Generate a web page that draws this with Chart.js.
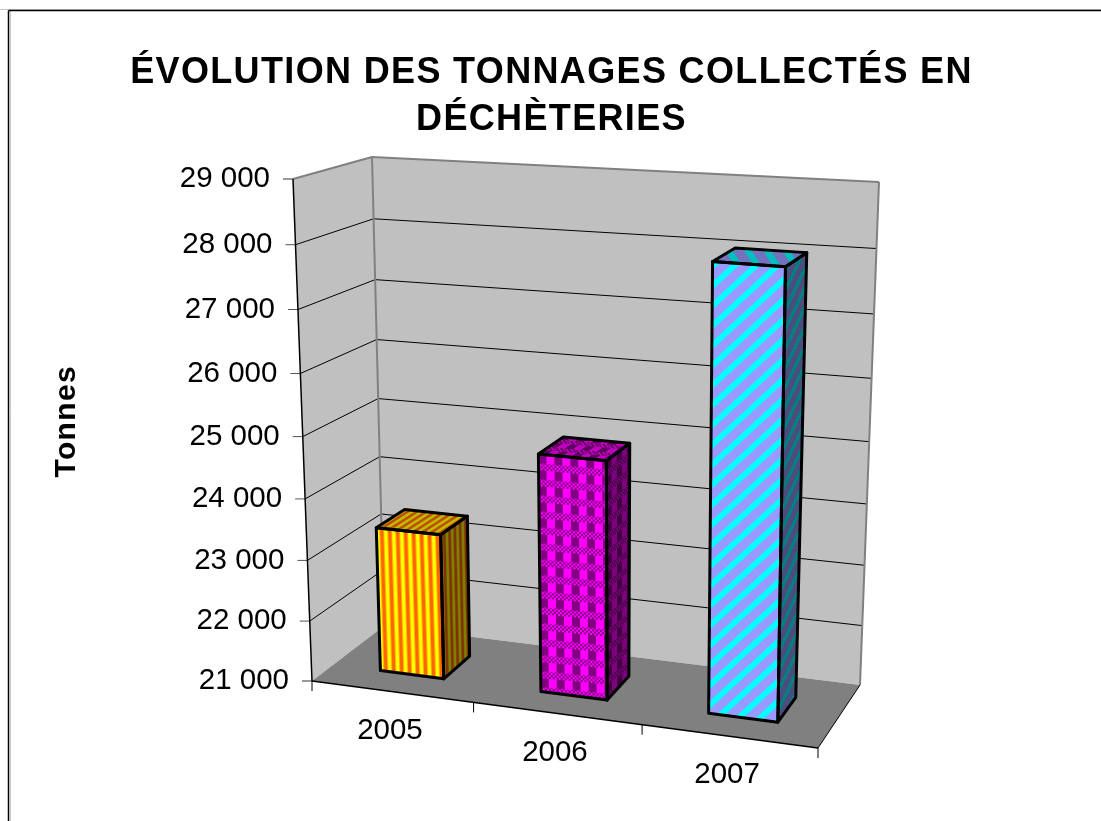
<!DOCTYPE html>
<html lang="fr">
<head>
<meta charset="utf-8">
<title>Évolution des tonnages collectés en déchèteries</title>
<script src="https://cdn.jsdelivr.net/npm/chart.js@4"></script>
<style>
  html, body { margin: 0; padding: 0; background: #fff; }
  #wrap { width: 1101px; height: 821px; }
</style>
</head>
<body>
<div id="wrap"><canvas id="chart" width="1101" height="821"></canvas></div>
<script>
const years = ['2005', '2006', '2007'];
const tonnes = [23400, 24870, 28050];
const yMin = 21000;
const yMax = 29000;
const yStep = 1000;
const titleLines = ['ÉVOLUTION DES TONNAGES COLLECTÉS EN', 'DÉCHÈTERIES'];
const yTitle = 'Tonnes';

const FONT = '"Liberation Sans", Arial, sans-serif';

// corners of the 3D box as seen on screen (tl, tr, br, bl)
const frontQuad = [[293, 179], [827, 215], [818, 748], [312, 681]];
const backQuad = [[372, 157], [879, 182], [860, 685], [384, 626]];

// unit square -> quad
function homography(q) {
  const [[x0, y0], [x1, y1], [x2, y2], [x3, y3]] = q;
  const dx1 = x1 - x2, dx2 = x3 - x2, sx = x0 - x1 + x2 - x3;
  const dy1 = y1 - y2, dy2 = y3 - y2, sy = y0 - y1 + y2 - y3;
  const den = dx1 * dy2 - dx2 * dy1;
  const g = (sx * dy2 - dx2 * sy) / den;
  const h = (dx1 * sy - sx * dy1) / den;
  const a = x1 - x0 + g * x1, b = x3 - x0 + h * x3;
  const d = y1 - y0 + g * y1, e = y3 - y0 + h * y3;
  return (s, t) => {
    const k = g * s + h * t + 1;
    return [(a * s + b * t + x0) / k, (d * s + e * t + y0) / k];
  };
}
const frontH = homography(frontQuad);
const backH = homography(backQuad);

// u along categories, v up the value axis, w into the depth
function project(u, v, w) {
  const f = frontH(u, 1 - v);
  const b = backH(u, 1 - v);
  return [f[0] + (b[0] - f[0]) * w, f[1] + (b[1] - f[1]) * w];
}

function poly(ctx, pts) {
  ctx.beginPath();
  pts.forEach((p, i) => (i ? ctx.lineTo(p[0], p[1]) : ctx.moveTo(p[0], p[1])));
  ctx.closePath();
}

function line(ctx, a, b, color, width) {
  ctx.strokeStyle = color;
  ctx.lineWidth = width;
  ctx.beginPath();
  ctx.moveTo(a[0], a[1]);
  ctx.lineTo(b[0], b[1]);
  ctx.stroke();
}

function stripePattern(ctx) {
  const c = document.createElement('canvas');
  c.width = 8; c.height = 8;
  const g = c.getContext('2d');
  ['#ffff00', '#ffff00', '#ffff00', '#ffb000', '#ff6600', '#ff6600', '#ff6600', '#ffb000'].forEach((col, i) => {
    g.fillStyle = col;
    g.fillRect(i, 0, 1, 8);
  });
  return ctx.createPattern(c, 'repeat');
}

function checkPattern(ctx) {
  const c = document.createElement('canvas');
  c.width = 16; c.height = 16;
  const g = c.getContext('2d');
  for (let y = 0; y < 16; y++) {
    for (let x = 0; x < 16; x++) {
      let on;
      if (y < 9) on = x >= 8;
      else on = (Math.floor(x / 2) + Math.floor(y / 2)) % 2 === 0;
      g.fillStyle = on ? '#ff00ff' : '#800080';
      g.fillRect(x, y, 1, 1);
    }
  }
  return ctx.createPattern(c, 'repeat');
}

function diagonalPattern(ctx) {
  const c = document.createElement('canvas');
  c.width = 20; c.height = 20;
  const g = c.getContext('2d');
  for (let y = 0; y < 20; y++) {
    for (let x = 0; x < 20; x++) {
      g.fillStyle = (x + y) % 20 < 8 ? '#00ffff' : '#9999ff';
      g.fillRect(x, y, 1, 1);
    }
  }
  return ctx.createPattern(c, 'repeat');
}

// fill a face with a pattern sheared along its edges, then darken it
function fillFace(ctx, pts, pattern, sx, sy, shade) {
  const [p0, p1, , p3] = pts;
  const ux = p1[0] - p0[0], uy = p1[1] - p0[1];
  const vx = p3[0] - p0[0], vy = p3[1] - p0[1];
  const lu = Math.hypot(ux, uy), lv = Math.hypot(vx, vy);
  pattern.setTransform(new DOMMatrix([ux / lu * sx, uy / lu * sx, vx / lv * sy, vy / lv * sy, p0[0], p0[1]]));
  poly(ctx, pts);
  ctx.fillStyle = pattern;
  ctx.fill();
  if (shade) {
    ctx.fillStyle = 'rgba(0,0,0,' + shade + ')';
    ctx.fill();
  }
}

const box3d = {
  id: 'box3d',
  beforeDraw(chart) {
    const ctx = chart.ctx;
    ctx.save();
    ctx.fillStyle = '#fff';
    ctx.fillRect(0, 0, chart.width, chart.height);
    line(ctx, [0, 9.5], [1101, 9.5], '#c8c8c8', 1);
    line(ctx, [10.5, 10], [10.5, 821], '#c8c8c8', 1);
    line(ctx, [8.5, 10.5], [1101, 10.5], '#000', 1.5);
    line(ctx, [8.5, 10.5], [8.5, 821], '#000', 1.5);
    ctx.restore();
    // title and axis title are spaced out a little in the original
    ctx.letterSpacing = '1.35px';
  },
  beforeDatasetsDraw(chart) {
    const ctx = chart.ctx;
    ctx.letterSpacing = '0px';
    const yScale = chart.scales.y;
    const xScale = chart.scales.x;
    const area = chart.chartArea;
    const vOf = (val) => (area.bottom - yScale.getPixelForValue(val)) / area.height;
    ctx.save();

    // walls and floor
    poly(ctx, [project(0, 0, 0), project(0, 1, 0), project(0, 1, 1), project(0, 0, 1)]);
    ctx.fillStyle = '#c0c0c0';
    ctx.fill();
    poly(ctx, [project(0, 0, 1), project(0, 1, 1), project(1, 1, 1), project(1, 0, 1)]);
    ctx.fill();
    poly(ctx, [project(0, 0, 0), project(0, 0, 1), project(1, 0, 1), project(1, 0, 0)]);
    ctx.fillStyle = '#808080';
    ctx.fill();

    // gridlines and tick labels from the value scale
    yScale.ticks.forEach((tick) => {
      const v = vOf(tick.value);
      const a = project(0, v, 0);
      if (tick.value > yMin && tick.value < yMax) {
        line(ctx, a, project(0, v, 1), '#000', 1);
        line(ctx, project(0, v, 1), project(1, v, 1), '#000', 1);
      }
      line(ctx, [a[0] - 10, a[1]], a, tick.value === yMin || tick.value === yMax ? '#333' : '#555', 1);
      ctx.fillStyle = '#000';
      ctx.font = '29.5px ' + FONT;
      ctx.textAlign = 'right';
      ctx.textBaseline = 'middle';
      ctx.fillText(tick.label, a[0] - 23, a[1]);
    });

    // wall edges
    line(ctx, project(0, 1, 0), project(0, 1, 1), '#808080', 2);
    line(ctx, project(0, 1, 1), project(1, 1, 1), '#808080', 2);
    line(ctx, project(0, 1, 1), project(0, 0, 1), '#808080', 2);
    line(ctx, project(1, 1, 1), project(1, 0, 1), '#808080', 2);

    // axes
    line(ctx, project(0, 1, 0), project(0, 0, 0), '#000', 1.5);
    line(ctx, project(0, 0, 0), project(1, 0, 0), '#000', 1.5);
    line(ctx, project(1, 0, 0), project(1, 0, 1), '#000', 1);

    // category ticks and labels
    const n = years.length;
    for (let i = 0; i <= n; i++) {
      const p = project(i / n, 0, 0);
      line(ctx, p, [p[0], p[1] + 10], '#000', 1);
    }
    xScale.ticks.forEach((tick, i) => {
      const u = (xScale.getPixelForTick(i) - area.left) / area.width;
      const p = project(u, 0, 0);
      ctx.fillStyle = '#000';
      ctx.font = '29.5px ' + FONT;
      ctx.textAlign = 'center';
      ctx.textBaseline = 'middle';
      ctx.fillText(tick.label, p[0] - 2, p[1] + 39);
    });
    ctx.restore();
  },
  afterDatasetsDraw(chart) {
    const ctx = chart.ctx;
    const area = chart.chartArea;
    const makers = [stripePattern, checkPattern, diagonalPattern];
    const w0 = 0.3, w1 = 0.7;
    ctx.save();
    chart.getDatasetMeta(0).data.forEach((bar, i) => {
      const u0 = (bar.x - bar.width / 2 - area.left) / area.width;
      const u1 = (bar.x + bar.width / 2 - area.left) / area.width;
      const vt = (area.bottom - bar.y) / area.height;
      const pat = makers[i](ctx);
      const front = [project(u0, vt, w0), project(u1, vt, w0), project(u1, 0, w0), project(u0, 0, w0)];
      const side = [project(u1, vt, w0), project(u1, vt, w1), project(u1, 0, w1), project(u1, 0, w0)];
      const top = [project(u0, vt, w0), project(u1, vt, w0), project(u1, vt, w1), project(u0, vt, w1)];
      fillFace(ctx, front, pat, 1, 1, 0);
      fillFace(ctx, side, pat, 0.8, 1, 0.5);
      fillFace(ctx, top, pat, 1, 0.8, 0.25);
      ctx.strokeStyle = '#000';
      ctx.lineWidth = 3;
      ctx.lineJoin = 'round';
      [front, side, top].forEach((f) => { poly(ctx, f); ctx.stroke(); });
    });
    ctx.restore();
  },
};

new Chart(document.getElementById('chart'), {
  type: 'bar',
  data: {
    labels: years,
    datasets: [{
      label: 'Tonnes',
      data: tonnes,
      backgroundColor: 'rgba(0,0,0,0)',
      barPercentage: 0.4,
      categoryPercentage: 1,
    }],
  },
  options: {
    responsive: false,
    animation: false,
    layout: { padding: { left: 45, right: 43, top: 0, bottom: 142 } },
    plugins: {
      legend: { display: false },
      tooltip: { enabled: false },
      title: {
        display: true,
        text: titleLines,
        color: '#000',
        font: { family: FONT, size: 36, weight: 'bold', lineHeight: 1.3 },
        padding: { top: 50, bottom: 28 },
      },
    },
    scales: {
      x: {
        grid: { display: false },
        border: { display: false },
        ticks: { display: false },
      },
      y: {
        min: yMin,
        max: yMax,
        grid: { display: false },
        border: { display: false },
        ticks: {
          display: false,
          stepSize: yStep,
          callback: (val) => String(val).replace(/(\d)(\d{3})$/, '$1 $2'),
        },
        title: {
          display: true,
          text: yTitle,
          color: '#000',
          font: { family: FONT, size: 30, weight: 'bold' },
        },
      },
    },
  },
  plugins: [box3d],
});
</script>
</body>
</html>
